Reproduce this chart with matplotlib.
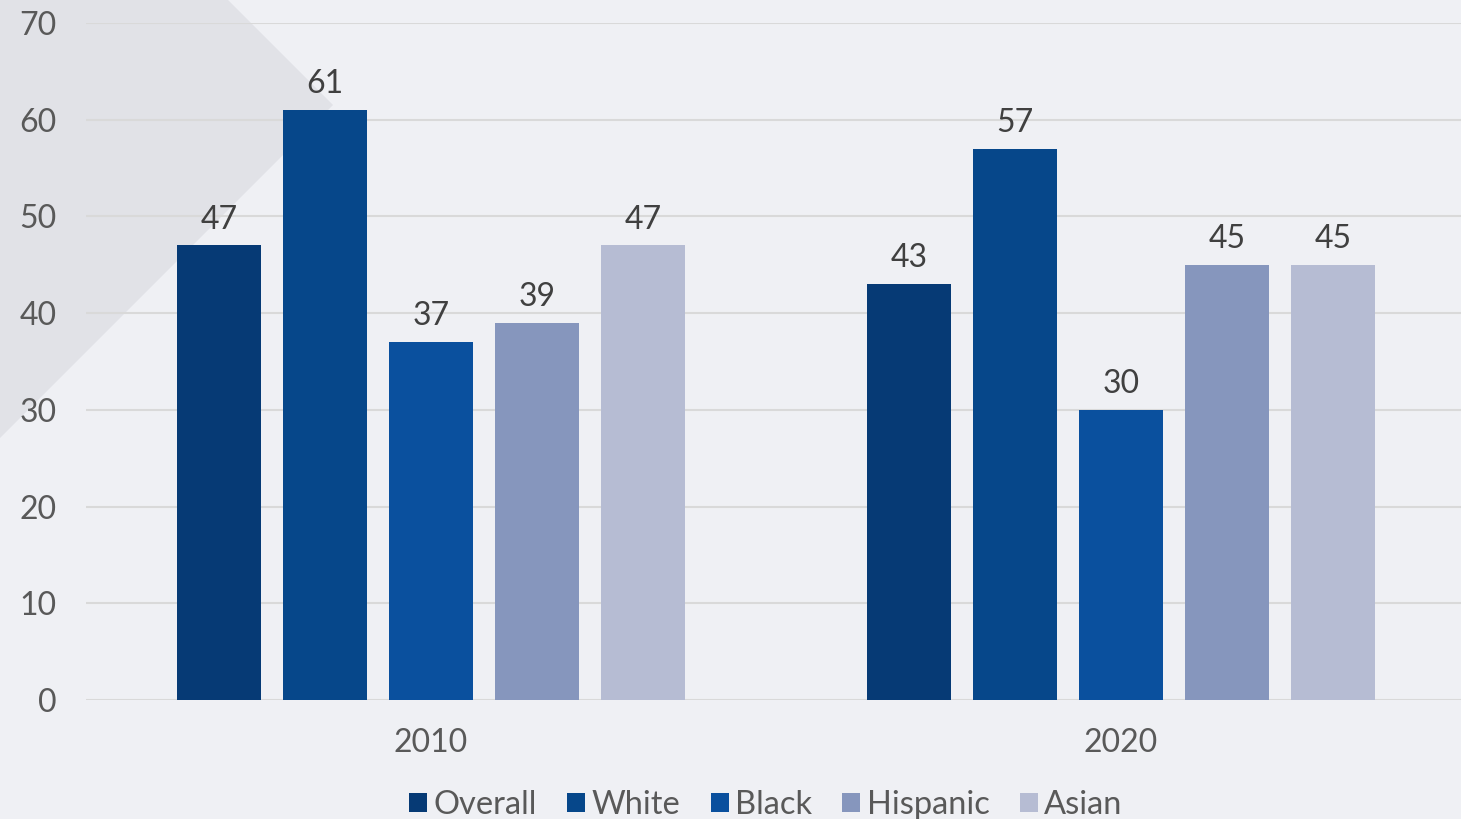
import numpy as np
import matplotlib
matplotlib.use("Agg")
import matplotlib.pyplot as plt
from matplotlib.patches import Polygon, Patch

years = ["2010", "2020"]
groups = ["Overall", "White", "Black", "Hispanic", "Asian"]
overall = [47, 43]
white = [61, 57]
black = [37, 30]
hispanic = [39, 45]
asian = [47, 45]
y_ticks = [0, 10, 20, 30, 40, 50, 60, 70]

colors = ["#063a75", "#06478a", "#0a509e", "#8696bd", "#b6bcd3"]
bg = "#eff0f4"

plt.rcParams["font.family"] = ["Lato", "DejaVu Sans"]

W, H = 1461, 819
fig = plt.figure(figsize=(W / 100, H / 100), dpi=100)
fig.patch.set_facecolor(bg)

# grey chevron shape in the top left corner (figure pixels), behind the axes
pts = [(0, 0), (228, 0), (333, 105), (0, 438)]
fig.add_artist(Polygon([(x / W, 1 - y / H) for x, y in pts], closed=True,
                       transform=fig.transFigure, facecolor="#e1e2e7",
                       edgecolor="none", zorder=-10))

ax = fig.add_axes([86 / W, 1 - 700 / H, 1 - 86 / W, 677 / H])
ax.set_facecolor("none")

x = np.arange(len(years))
series = [overall, white, black, hispanic, asian]
step = 106 / 690
width = 84 / 690
for i, (vals, c) in enumerate(zip(series, colors)):
    pos = x + (i - 2) * step
    ax.bar(pos, vals, width, color=c, edgecolor="none", zorder=3, label=groups[i])
    for px, v in zip(pos, vals):
        ax.annotate(str(v), (px, v), xytext=(0, 12), textcoords="offset points",
                    ha="center", va="baseline", fontsize=23, color="#404040")

ax.set_xlim(-0.5, 1.493)
ax.set_ylim(0, 70)
ax.set_yticks(y_ticks)
ax.set_xticks(x)
ax.set_xticklabels(years)
ax.grid(axis="y", color="#d9d9d9", linewidth=1.5, zorder=1)
ax.set_axisbelow(True)
for s in ax.spines.values():
    s.set_visible(False)
ax.tick_params(axis="y", length=0, pad=21, labelsize=23, labelcolor="#595959")
ax.tick_params(axis="x", length=0, pad=20, labelsize=23, labelcolor="#595959")

handles = [Patch(facecolor=c, edgecolor="none") for c in colors]
fig.legend(handles, groups, loc="center", bbox_to_anchor=(766 / W, 1 - 805 / H),
           ncol=5, frameon=False, fontsize=23.5, labelcolor="#595959",
           handlelength=0.55, handleheight=0.55, handletextpad=0.2,
           columnspacing=0.92, borderaxespad=0, borderpad=0)

fig.savefig("out.png", dpi=100, facecolor=bg)
